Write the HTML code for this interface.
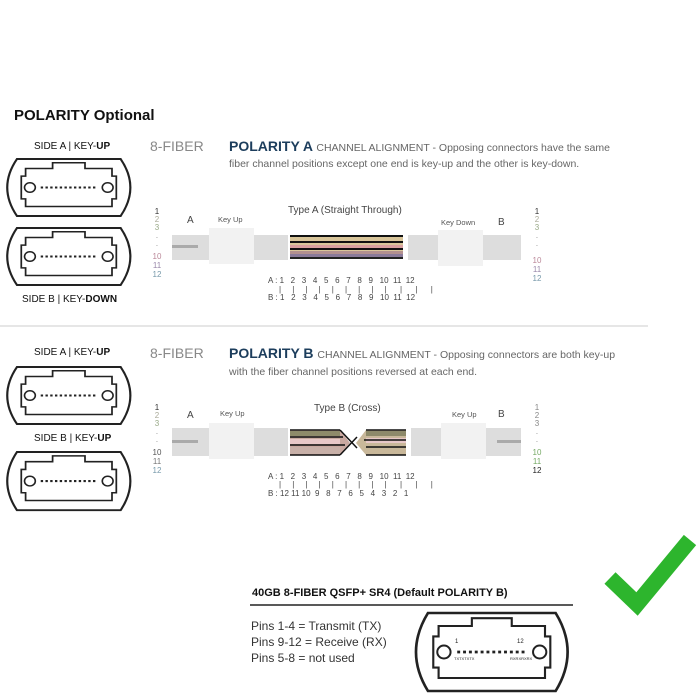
<!DOCTYPE html>
<html><head><meta charset="utf-8"><style>
body{margin:0;background:#fff;width:700px;height:695px;overflow:hidden}
svg{display:block;font-family:"Liberation Sans",sans-serif}
</style></head><body>
<svg width="700" height="695" viewBox="0 0 700 695">
<defs>
<g id="conn">
<path d="M12,0 H108 Q126,30 108,60 H12 Q-6,30 12,0 Z" fill="#fff" stroke="#222" stroke-width="2"/>
<path d="M20,10 H45 V4 H75 V10 H100 V18 H104 V42 H100 V50 H20 V42 H16 V18 H20 Z" fill="#fff" stroke="#222" stroke-width="1.6"/>
<circle cx="24" cy="30" r="5" fill="#fff" stroke="#222" stroke-width="1.5"/>
<circle cx="96" cy="30" r="5" fill="#fff" stroke="#222" stroke-width="1.5"/>
<line x1="34" y1="30" x2="86" y2="30" stroke="#222" stroke-width="2.2" stroke-dasharray="2.2 2.2"/>
</g>
<g id="fib">
<rect x="0" y="0" width="113" height="24" fill="#d8c59a"/>
<rect x="0" y="0" width="113" height="2" fill="#111"/>
<rect x="0" y="6" width="113" height="2" fill="#111"/>
<rect x="0" y="10" width="113" height="3" fill="#d9a0a0"/>
<rect x="0" y="13" width="113" height="2" fill="#111"/>
<rect x="0" y="16" width="113" height="3" fill="#b39090"/>
<rect x="0" y="19" width="113" height="3" fill="#8a7a9a"/>
<rect x="0" y="22" width="113" height="2" fill="#222"/>
</g>
</defs>
<text x="14" y="120" font-size="15" font-weight="bold" fill="#111">POLARITY Optional</text>

<!-- Polarity A -->
<text x="34" y="149" font-size="10" fill="#111">SIDE A | KEY-<tspan font-weight="bold">UP</tspan></text>
<g transform="translate(4,159) scale(1.08,0.95)"><use href="#conn"/></g>
<g transform="translate(4,228) scale(1.08,0.95)"><use href="#conn"/></g>
<text x="22" y="302" font-size="10" fill="#111">SIDE B | KEY-<tspan font-weight="bold">DOWN</tspan></text>
<text x="150" y="151" font-size="14" fill="#888">8-FIBER</text>
<text x="229" y="151" font-size="14" font-weight="bold" fill="#1c3d5c">POLARITY A <tspan font-size="10.5" font-weight="normal" fill="#666">CHANNEL ALIGNMENT - Opposing connectors have the same</tspan></text>
<text x="229" y="167" font-size="10.5" fill="#666">fiber channel positions except one end is key-up and the other is key-down.</text>

<g font-size="8" fill="#888" text-anchor="middle">
<text x="157" y="214" fill="#333">1</text><text x="157" y="222" fill="#aa9">2</text><text x="157" y="230" fill="#9a8">3</text><text x="157" y="240">·</text><text x="157" y="248">·</text><text x="157" y="259" fill="#b89">10</text><text x="157" y="268" fill="#98a">11</text><text x="157" y="277" fill="#79a">12</text>
<text x="537" y="214" fill="#333">1</text><text x="537" y="222" fill="#aa9">2</text><text x="537" y="230" fill="#9a8">3</text><text x="537" y="240">·</text><text x="537" y="248">·</text><text x="537" y="263" fill="#b89">10</text><text x="537" y="272" fill="#98a">11</text><text x="537" y="281" fill="#79a">12</text>
</g>
<text x="187" y="223" font-size="10" fill="#444">A</text>
<text x="218" y="222" font-size="7.5" fill="#555">Key Up</text>
<text x="288" y="213" font-size="10" fill="#444">Type A (Straight Through)</text>
<text x="441" y="225" font-size="7.5" fill="#555">Key Down</text>
<text x="498" y="225" font-size="10" fill="#444">B</text>
<rect x="172" y="235" width="37" height="25" fill="#ddd"/>
<rect x="172" y="245" width="26" height="3" fill="#aaa"/>
<rect x="209" y="228" width="45" height="36" fill="#f2f2f2"/>
<rect x="254" y="235" width="34" height="25" fill="#ddd"/>
<use href="#fib" x="290" y="235"/>
<rect x="408" y="235" width="30" height="25" fill="#ddd"/>
<rect x="438" y="230" width="45" height="36" fill="#f2f2f2"/>
<rect x="483" y="235" width="38" height="25" fill="#ddd"/>
<g font-size="8" fill="#444">
<text x="268" y="283">A : 1 &#160; 2 &#160; 3 &#160; 4 &#160; 5 &#160; 6 &#160; 7 &#160; 8 &#160; 9 &#160; 10 &#160;11 &#160;12</text>
<text x="279" y="292">|&#160;&#160;&#160;&#160; |&#160;&#160;&#160;&#160; |&#160;&#160;&#160;&#160; |&#160;&#160;&#160;&#160; |&#160;&#160;&#160;&#160; |&#160;&#160;&#160;&#160; |&#160;&#160;&#160;&#160; |&#160;&#160;&#160;&#160; |&#160;&#160;&#160;&#160;&#160; |&#160;&#160;&#160;&#160;&#160; |&#160;&#160;&#160;&#160;&#160; |</text>
<text x="268" y="300">B : 1 &#160; 2 &#160; 3 &#160; 4 &#160; 5 &#160; 6 &#160; 7 &#160; 8 &#160; 9 &#160; 10 &#160;11 &#160;12</text>
</g>
<line x1="0" y1="326" x2="648" y2="326" stroke="#ccc"/>

<!-- Polarity B -->
<text x="34" y="355" font-size="10" fill="#111">SIDE A | KEY-<tspan font-weight="bold">UP</tspan></text>
<g transform="translate(4,367) scale(1.08,0.95)"><use href="#conn"/></g>
<text x="34" y="441" font-size="10" fill="#111">SIDE B | KEY-<tspan font-weight="bold">UP</tspan></text>
<g transform="translate(4,452) scale(1.08,0.97)"><use href="#conn"/></g>
<text x="150" y="358" font-size="14" fill="#888">8-FIBER</text>
<text x="229" y="358" font-size="14" font-weight="bold" fill="#1c3d5c">POLARITY B <tspan font-size="10.5" font-weight="normal" fill="#666">CHANNEL ALIGNMENT - Opposing connectors are both key-up</tspan></text>
<text x="229" y="375" font-size="10.5" fill="#666">with the fiber channel positions reversed at each end.</text>
<g font-size="8" fill="#888" text-anchor="middle">
<text x="157" y="410" fill="#333">1</text><text x="157" y="418" fill="#aa9">2</text><text x="157" y="426" fill="#9a8">3</text><text x="157" y="436">·</text><text x="157" y="444">·</text><text x="157" y="455" fill="#555">10</text><text x="157" y="464" fill="#777">11</text><text x="157" y="473" fill="#79a">12</text>
<text x="537" y="410" fill="#888">1</text><text x="537" y="418" fill="#888">2</text><text x="537" y="426" fill="#888">3</text><text x="537" y="436">·</text><text x="537" y="444">·</text><text x="537" y="455" fill="#7a6">10</text><text x="537" y="464" fill="#7a6">11</text><text x="537" y="473" fill="#222">12</text>
</g>
<text x="187" y="418" font-size="10" fill="#444">A</text>
<text x="220" y="416" font-size="7.5" fill="#555">Key Up</text>
<text x="314" y="411" font-size="10" fill="#444">Type B (Cross)</text>
<text x="452" y="417" font-size="7.5" fill="#555">Key Up</text>
<text x="498" y="417" font-size="10" fill="#444">B</text>
<rect x="172" y="428" width="37" height="28" fill="#ddd"/>
<rect x="172" y="440" width="26" height="3" fill="#aaa"/>
<rect x="209" y="423" width="45" height="36" fill="#f2f2f2"/>
<rect x="254" y="428" width="34" height="28" fill="#ddd"/>
<polygon points="290,430 340,430 350,443 340,455 290,455" fill="#c9a8a0"/>
<g stroke="#111" stroke-width="1.5"><line x1="290" y1="430" x2="340" y2="430"/><line x1="290" y1="437" x2="343" y2="437"/><line x1="290" y1="445" x2="345" y2="445"/><line x1="290" y1="455" x2="340" y2="455"/><line x1="340" y1="430" x2="357" y2="448"/><line x1="340" y1="455" x2="357" y2="437"/></g>
<rect x="290" y="431" width="50" height="5" fill="#8e8a6a"/>
<rect x="290" y="439" width="50" height="5" fill="#e8c8c8"/>
<rect x="290" y="447" width="50" height="7" fill="#c8b0a8"/>
<polygon points="356,443 366,430 406,430 406,455 366,455" fill="#c9b89a"/>
<rect x="366" y="431" width="40" height="5" fill="#8e8a6a"/>
<rect x="366" y="438" width="40" height="5" fill="#e8c8c8"/>
<g stroke="#111" stroke-width="1.5"><line x1="366" y1="430" x2="406" y2="430"/><line x1="364" y1="440" x2="406" y2="440"/><line x1="366" y1="447" x2="406" y2="447"/><line x1="366" y1="455" x2="406" y2="455"/></g>
<rect x="411" y="428" width="30" height="28" fill="#ddd"/>
<rect x="441" y="423" width="45" height="36" fill="#f2f2f2"/>
<rect x="486" y="428" width="35" height="28" fill="#ddd"/>
<rect x="497" y="440" width="24" height="3" fill="#aaa"/>
<g font-size="8" fill="#444">
<text x="268" y="479">A : 1 &#160; 2 &#160; 3 &#160; 4 &#160; 5 &#160; 6 &#160; 7 &#160; 8 &#160; 9 &#160; 10 &#160;11 &#160;12</text>
<text x="279" y="487">|&#160;&#160;&#160;&#160; |&#160;&#160;&#160;&#160; |&#160;&#160;&#160;&#160; |&#160;&#160;&#160;&#160; |&#160;&#160;&#160;&#160; |&#160;&#160;&#160;&#160; |&#160;&#160;&#160;&#160; |&#160;&#160;&#160;&#160; |&#160;&#160;&#160;&#160;&#160; |&#160;&#160;&#160;&#160;&#160; |&#160;&#160;&#160;&#160;&#160; |</text>
<text x="268" y="496">B : 12 11 10 &#160;9 &#160; 8 &#160; 7 &#160; 6 &#160; 5 &#160; 4 &#160; 3 &#160; 2 &#160; 1</text>
</g>

<!-- bottom -->
<text x="252" y="596" font-size="11" font-weight="bold" fill="#111">40GB 8-FIBER QSFP+ SR4 (Default POLARITY B)</text>
<line x1="250" y1="605" x2="573" y2="605" stroke="#222" stroke-width="1.5"/>
<text x="251" y="630" font-size="12" fill="#333">Pins 1-4 = Transmit (TX)</text>
<text x="251" y="646" font-size="12" fill="#333">Pins 9-12 = Receive (RX)</text>
<text x="251" y="662" font-size="12" fill="#333">Pins 5-8 = not used</text>
<g transform="translate(412,613) scale(1.33,1.3)"><use href="#conn"/></g>
<text x="455" y="643" font-size="6" fill="#222">1</text>
<text x="517" y="643" font-size="6" fill="#222">12</text>
<text x="454" y="660" font-size="4" fill="#222">TXTXTXTX</text>
<text x="510" y="660" font-size="4" fill="#222">RXRXRXRX</text>

<polyline points="610,578 637,604 690,540" fill="none" stroke="#2db52d" stroke-width="16" stroke-linejoin="miter"/>
</svg>
</body></html>
